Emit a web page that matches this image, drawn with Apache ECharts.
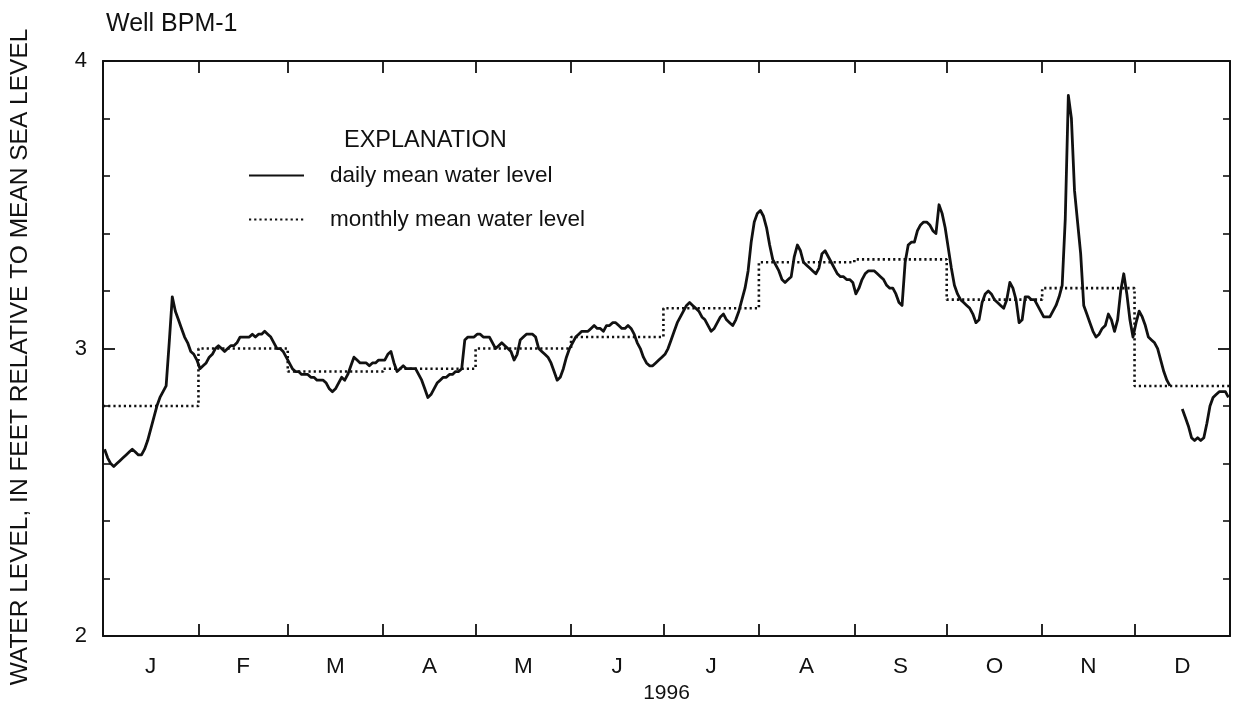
<!DOCTYPE html>
<html>
<head>
<meta charset="utf-8">
<script src="https://cdn.jsdelivr.net/npm/echarts@6/dist/echarts.min.js"></script>
<style>
  html, body { margin: 0; padding: 0; background: #fff; }
  #chart { width: 1234px; height: 709px; }
</style>
</head>
<body>
<div id="chart"></div>
<script>
// Calendar for 1996 (leap year)
const monthLabels = ['J', 'F', 'M', 'A', 'M', 'J', 'J', 'A', 'S', 'O', 'N', 'D'];
const monthDays = [31, 29, 31, 30, 31, 30, 31, 31, 30, 31, 30, 31];

// Monthly mean water level, feet relative to mean sea level
const monthlyMean = [2.80, 3.00, 2.92, 2.93, 3.00, 3.04, 3.14, 3.30, 3.31, 3.17, 3.21, 2.87];

// Daily mean water level, one value per day (null = missing record)
const dailyJan = [2.65, 2.62, 2.60, 2.59, 2.60, 2.61, 2.62, 2.63, 2.64, 2.65, 2.64, 2.63, 2.63, 2.65, 2.68, 2.72,
  2.76, 2.80, 2.83, 2.85, 2.87, 3.02, 3.18, 3.13, 3.10, 3.07, 3.04, 3.02, 2.99, 2.98, 2.96];
const dailyFeb = [2.93, 2.94, 2.95, 2.97, 2.98, 3.00, 3.01, 3.00, 2.99, 3.00, 3.01, 3.01, 3.02, 3.04, 3.04, 3.04,
  3.04, 3.05, 3.04, 3.05, 3.05, 3.06, 3.05, 3.04, 3.02, 3.00, 3.00, 2.99, 2.97];
const dailyMar = [2.95, 2.93, 2.92, 2.92, 2.91, 2.91, 2.91, 2.90, 2.90, 2.89, 2.89, 2.89, 2.88, 2.86, 2.85, 2.86,
  2.88, 2.90, 2.89, 2.91, 2.94, 2.97, 2.96, 2.95, 2.95, 2.95, 2.94, 2.95, 2.95, 2.96, 2.96];
const dailyApr = [2.96, 2.98, 2.99, 2.95, 2.92, 2.93, 2.94, 2.93, 2.93, 2.93, 2.93, 2.91, 2.89, 2.86, 2.83, 2.84,
  2.86, 2.88, 2.89, 2.90, 2.90, 2.91, 2.91, 2.92, 2.92, 2.93, 3.03, 3.04, 3.04, 3.04];
const dailyMay = [3.05, 3.05, 3.04, 3.04, 3.04, 3.02, 3.00, 3.01, 3.02, 3.01, 3.00, 2.99, 2.96, 2.98, 3.03, 3.04,
  3.05, 3.05, 3.05, 3.04, 3.00, 2.99, 2.98, 2.97, 2.95, 2.92, 2.89, 2.90, 2.93, 2.97, 3.00];
const dailyJun = [3.02, 3.04, 3.05, 3.06, 3.06, 3.06, 3.07, 3.08, 3.07, 3.07, 3.06, 3.08, 3.08, 3.09, 3.09, 3.08,
  3.07, 3.07, 3.08, 3.07, 3.05, 3.02, 3.00, 2.97, 2.95, 2.94, 2.94, 2.95, 2.96, 2.97];
const dailyJul = [2.98, 3.00, 3.03, 3.06, 3.09, 3.11, 3.13, 3.15, 3.16, 3.15, 3.14, 3.13, 3.11, 3.10, 3.08, 3.06,
  3.07, 3.09, 3.11, 3.12, 3.10, 3.09, 3.08, 3.10, 3.13, 3.17, 3.21, 3.27, 3.37, 3.44, 3.47];
const dailyAug = [3.48, 3.46, 3.42, 3.36, 3.31, 3.29, 3.27, 3.24, 3.23, 3.24, 3.25, 3.32, 3.36, 3.34, 3.30, 3.29,
  3.28, 3.27, 3.26, 3.28, 3.33, 3.34, 3.32, 3.30, 3.28, 3.26, 3.25, 3.25, 3.24, 3.24, 3.23];
const dailySep = [3.19, 3.21, 3.24, 3.26, 3.27, 3.27, 3.27, 3.26, 3.25, 3.24, 3.22, 3.21, 3.21, 3.19, 3.16, 3.15,
  3.30, 3.36, 3.37, 3.37, 3.41, 3.43, 3.44, 3.44, 3.43, 3.41, 3.40, 3.50, 3.47, 3.42];
const dailyOct = [3.35, 3.28, 3.22, 3.19, 3.17, 3.16, 3.15, 3.14, 3.12, 3.09, 3.10, 3.16, 3.19, 3.20, 3.19, 3.17,
  3.16, 3.15, 3.14, 3.17, 3.23, 3.21, 3.17, 3.09, 3.10, 3.18, 3.18, 3.17, 3.17, 3.15, 3.13];
const dailyNov = [3.11, 3.11, 3.11, 3.13, 3.15, 3.18, 3.22, 3.45, 3.88, 3.80, 3.55, 3.44, 3.33, 3.15, 3.12, 3.09,
  3.06, 3.04, 3.05, 3.07, 3.08, 3.12, 3.10, 3.06, 3.10, 3.20, 3.26, 3.19, 3.10, 3.04];
const dailyDec = [3.09, 3.13, 3.11, 3.08, 3.04, 3.03, 3.02, 3.00, 2.96, 2.92, 2.89, 2.87, null, null, null, 2.79,
  2.76, 2.73, 2.69, 2.68, 2.69, 2.68, 2.69, 2.74, 2.80, 2.83, 2.84, 2.85, 2.85, 2.85, 2.83];

const dailyLevel = [].concat(dailyJan, dailyFeb, dailyMar, dailyApr, dailyMay, dailyJun,
  dailyJul, dailyAug, dailySep, dailyOct, dailyNov, dailyDec);

// Day-of-year boundaries and month centres
const monthStarts = [0];
monthDays.forEach(function (n, k) { monthStarts.push(monthStarts[k] + n); });
const yearDays = monthStarts[12];
const monthMids = monthDays.map(function (n, k) { return monthStarts[k] + n / 2; });

const dailyData = dailyLevel.map(function (v, i) { return [i + 0.5, v]; });
const monthlyData = monthlyMean.map(function (v, k) { return [monthStarts[k], v]; });
monthlyData.push([yearDays, monthlyMean[11]]);

const FONT = '"Liberation Sans", Arial, Helvetica, sans-serif';
const INK = '#111';
const yTitle = 'WATER LEVEL, IN FEET RELATIVE TO MEAN SEA LEVEL';

const chart = echarts.init(document.getElementById('chart'), null, { renderer: 'canvas' });

const xCommon = {
  type: 'value',
  min: 0,
  max: yearDays,
  axisLine: { show: true, onZero: false, lineStyle: { color: INK, width: 2 } },
  axisTick: { show: true, inside: true, length: 12, lineStyle: { color: INK, width: 1.8 },
    customValues: monthStarts.slice(1, 12) },
  splitLine: { show: false }
};

const yCommon = {
  type: 'value',
  min: 2,
  max: 4,
  interval: 1,
  axisLine: { show: true, onZero: false, lineStyle: { color: INK, width: 2 } },
  axisTick: { show: true, inside: true, length: 12, lineStyle: { color: INK, width: 1.8 } },
  minorTick: { show: true, splitNumber: 5, length: 7, lineStyle: { color: INK, width: 1.6 } },
  splitLine: { show: false },
  minorSplitLine: { show: false }
};

chart.setOption({
  animation: false,
  backgroundColor: '#fff',
  textStyle: { fontFamily: FONT, color: INK },
  title: [
    { text: 'Well BPM-1', left: 101, top: 7,
      textStyle: { fontFamily: FONT, fontSize: 25, fontWeight: 'normal', color: INK } },
    { text: 'EXPLANATION', left: 339, top: 124,
      textStyle: { fontFamily: FONT, fontSize: 23.5, fontWeight: 'normal', color: INK } }
  ],
  legend: {
    orient: 'vertical',
    left: 248,
    top: 164,
    padding: 0,
    itemWidth: 55,
    itemHeight: 14,
    itemGap: 21,
    selectedMode: false,
    itemStyle: { opacity: 0 },
    textStyle: { fontFamily: FONT, fontSize: 22.5, color: INK, padding: [0, 0, 0, 21] },
    data: ['daily mean water level', 'monthly mean water level']
  },
  grid: { left: 103, right: 4, top: 61, bottom: 71, containLabel: false },
  graphic: [
    {
      type: 'text',
      x: 20,
      y: 357,
      rotation: Math.PI / 2,
      style: {
        text: yTitle,
        font: '24.5px ' + FONT,
        fill: INK,
        align: 'center',
        verticalAlign: 'middle'
      }
    }
  ],
  xAxis: [
    Object.assign({}, xCommon, {
      position: 'bottom',
      name: '1996',
      nameLocation: 'middle',
      nameGap: 44,
      nameTextStyle: { fontFamily: FONT, fontSize: 21, color: INK },
      axisLabel: {
        show: true, margin: 19, fontFamily: FONT, fontSize: 22.5, color: INK,
        customValues: monthMids,
        formatter: function (v) {
          const k = monthMids.indexOf(v);
          return k >= 0 ? monthLabels[k] : '';
        }
      }
    }),
    Object.assign({}, xCommon, { position: 'top', axisLabel: { show: false } })
  ],
  yAxis: [
    Object.assign({}, yCommon, {
      position: 'left',
      axisLabel: { show: true, margin: 16, fontFamily: FONT, fontSize: 22, color: INK,
        showMinLabel: true, showMaxLabel: true }
    }),
    Object.assign({}, yCommon, { position: 'right', axisLabel: { show: false } })
  ],
  series: [
    {
      name: 'daily mean water level',
      type: 'line',
      data: dailyData,
      symbol: 'none',
      showSymbol: false,
      connectNulls: false,
      lineStyle: { color: INK, width: 2.8, join: 'round' },
      itemStyle: { color: INK },
      z: 3
    },
    {
      name: 'monthly mean water level',
      type: 'line',
      step: 'end',
      data: monthlyData,
      symbol: 'none',
      showSymbol: false,
      lineStyle: { color: INK, width: 2.6, type: [2.2, 3] },
      itemStyle: { color: INK },
      z: 2
    }
  ]
});
</script>
</body>
</html>
